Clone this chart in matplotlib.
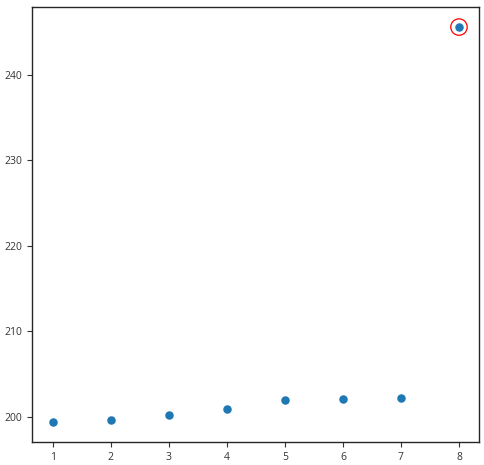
import matplotlib
matplotlib.use('Agg')
import matplotlib.pyplot as plt
import numpy as np

plt.rcParams['font.family'] = ['Open Sans', 'DejaVu Sans']

x = [1, 2, 3, 4, 5, 6, 7, 8]
y = [199.35, 199.57, 200.16, 200.86, 201.92, 202.03, 202.15, 245.55]
outlier_idx = [7]

fig = plt.figure(figsize=(4.85, 4.65), dpi=100)
ax = fig.add_axes([32.3 / 485, 23 / 465, 447 / 485, 434.7 / 465])

ax.scatter(x, y, s=26, color='#1f77b4', zorder=3)
ax.scatter([x[i] for i in outlier_idx], [y[i] for i in outlier_idx],
           s=140, facecolors='none', edgecolors='red', linewidths=0.9, zorder=4)

ax.set_yticks([200, 210, 220, 230, 240])
ax.set_xticks(x)
ax.tick_params(labelsize=7.5, colors='#333333', length=3.5, width=0.8)
for s in ax.spines.values():
    s.set_color('#262626')
    s.set_linewidth(1)

fig.savefig('out.png', dpi=100)
